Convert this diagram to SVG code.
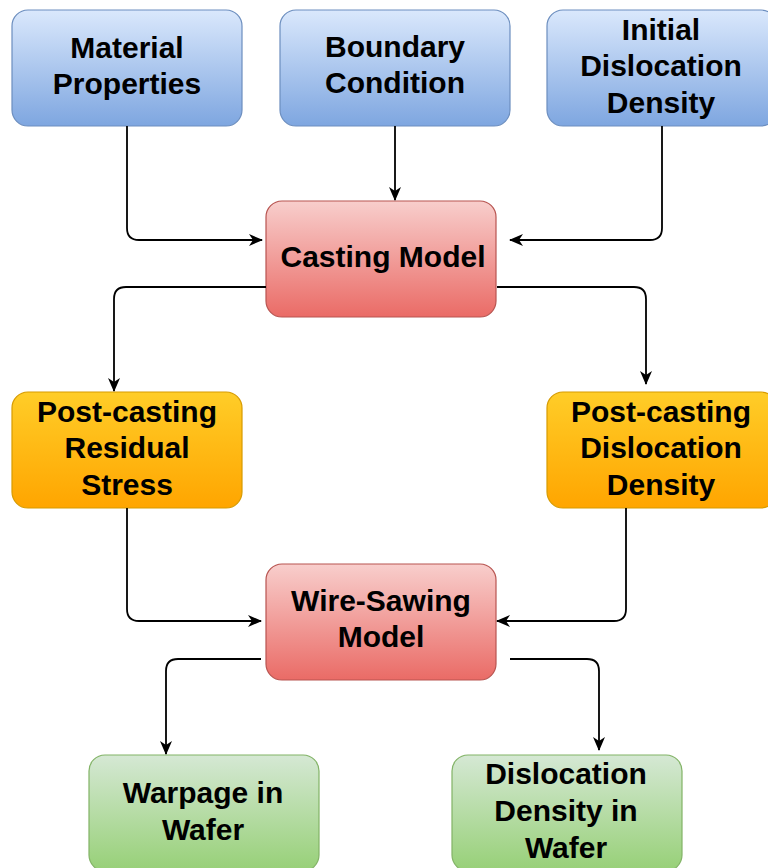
<svg xmlns="http://www.w3.org/2000/svg" width="768" height="868" viewBox="0 0 768 868">
<style>
.t{font-family:"Liberation Sans",Arial,Helvetica,sans-serif;font-weight:bold;font-size:30px;fill:#000;text-anchor:middle}
.e{fill:none;stroke:#000;stroke-width:1.8}
</style>
<defs>
<linearGradient id="gb" x1="0" y1="0" x2="0" y2="1"><stop offset="0" stop-color="#dae8fc"/><stop offset="1" stop-color="#7ea6e0"/></linearGradient>
<linearGradient id="gr" x1="0" y1="0" x2="0" y2="1"><stop offset="0" stop-color="#f8cecc"/><stop offset="1" stop-color="#ea6b66"/></linearGradient>
<linearGradient id="go" x1="0" y1="0" x2="0" y2="1"><stop offset="0" stop-color="#ffcd28"/><stop offset="1" stop-color="#ffa500"/></linearGradient>
<linearGradient id="gg" x1="0" y1="0" x2="0" y2="1"><stop offset="0" stop-color="#d5e8d4"/><stop offset="1" stop-color="#97d077"/></linearGradient>
<marker id="a" viewBox="0 0 14 14" refX="13" refY="7" markerWidth="14" markerHeight="14" markerUnits="userSpaceOnUse" orient="auto">
<path d="M0,1 L14,7 L0,13 L4,7 Z" fill="#000"/>
</marker>
</defs>
<g id="n1"><rect x="12" y="10" width="230" height="116" rx="16" fill="url(#gb)" stroke="#6c8ebf" stroke-width="1.2"/>
<text class="t" x="127" y="58">Material</text><text class="t" x="127" y="94">Properties</text></g>
<g id="n2"><rect x="280" y="10" width="230" height="116" rx="16" fill="url(#gb)" stroke="#6c8ebf" stroke-width="1.2"/>
<text class="t" x="395" y="57">Boundary</text><text class="t" x="395" y="93">Condition</text></g>
<g id="n3"><rect x="547" y="10" width="230" height="116" rx="16" fill="url(#gb)" stroke="#6c8ebf" stroke-width="1.2"/>
<text class="t" x="661" y="40">Initial</text><text class="t" x="661" y="76">Dislocation</text><text class="t" x="661" y="113">Density</text></g>
<g id="n4"><rect x="266" y="201" width="230" height="116" rx="16" fill="url(#gr)" stroke="#b85450" stroke-width="1.2"/>
<text class="t" x="383" y="267">Casting Model</text></g>
<g id="n5"><rect x="12" y="392" width="230" height="116" rx="16" fill="url(#go)" stroke="#d79b00" stroke-width="1.2"/>
<text class="t" x="127" y="422">Post-casting</text><text class="t" x="127" y="458">Residual</text><text class="t" x="127" y="495">Stress</text></g>
<g id="n6"><rect x="547" y="392" width="230" height="116" rx="16" fill="url(#go)" stroke="#d79b00" stroke-width="1.2"/>
<text class="t" x="661" y="422">Post-casting</text><text class="t" x="661" y="458">Dislocation</text><text class="t" x="661" y="495">Density</text></g>
<g id="n7"><rect x="266" y="564" width="230" height="116" rx="16" fill="url(#gr)" stroke="#b85450" stroke-width="1.2"/>
<text class="t" x="381" y="611">Wire-Sawing</text><text class="t" x="381" y="647">Model</text></g>
<g id="n8"><rect x="89" y="755" width="230" height="116" rx="16" fill="url(#gg)" stroke="#82b366" stroke-width="1.2"/>
<text class="t" x="203" y="803">Warpage in</text><text class="t" x="203" y="840">Wafer</text></g>
<g id="n9"><rect x="452" y="755" width="230" height="116" rx="16" fill="url(#gg)" stroke="#82b366" stroke-width="1.2"/>
<text class="t" x="566" y="784">Dislocation</text><text class="t" x="566" y="821">Density in</text><text class="t" x="566" y="858">Wafer</text></g>
<g id="edges">
<path class="e" d="M127,126 V228 Q127,240 139,240 H262" marker-end="url(#a)"/>
<path class="e" d="M395,126 V200" marker-end="url(#a)"/>
<path class="e" d="M662,126 V228 Q662,240 650,240 H510" marker-end="url(#a)"/>
<path class="e" d="M266,287 H126 Q114,287 114,299 V391" marker-end="url(#a)"/>
<path class="e" d="M497,287 H634 Q646,287 646,299 V384" marker-end="url(#a)"/>
<path class="e" d="M127,508 V609 Q127,621 139,621 H261" marker-end="url(#a)"/>
<path class="e" d="M626,508 V609 Q626,621 614,621 H497" marker-end="url(#a)"/>
<path class="e" d="M261,659 H178 Q166,659 166,671 V754" marker-end="url(#a)"/>
<path class="e" d="M510,659 H587 Q599,659 599,671 V750" marker-end="url(#a)"/>
</g>
</svg>
